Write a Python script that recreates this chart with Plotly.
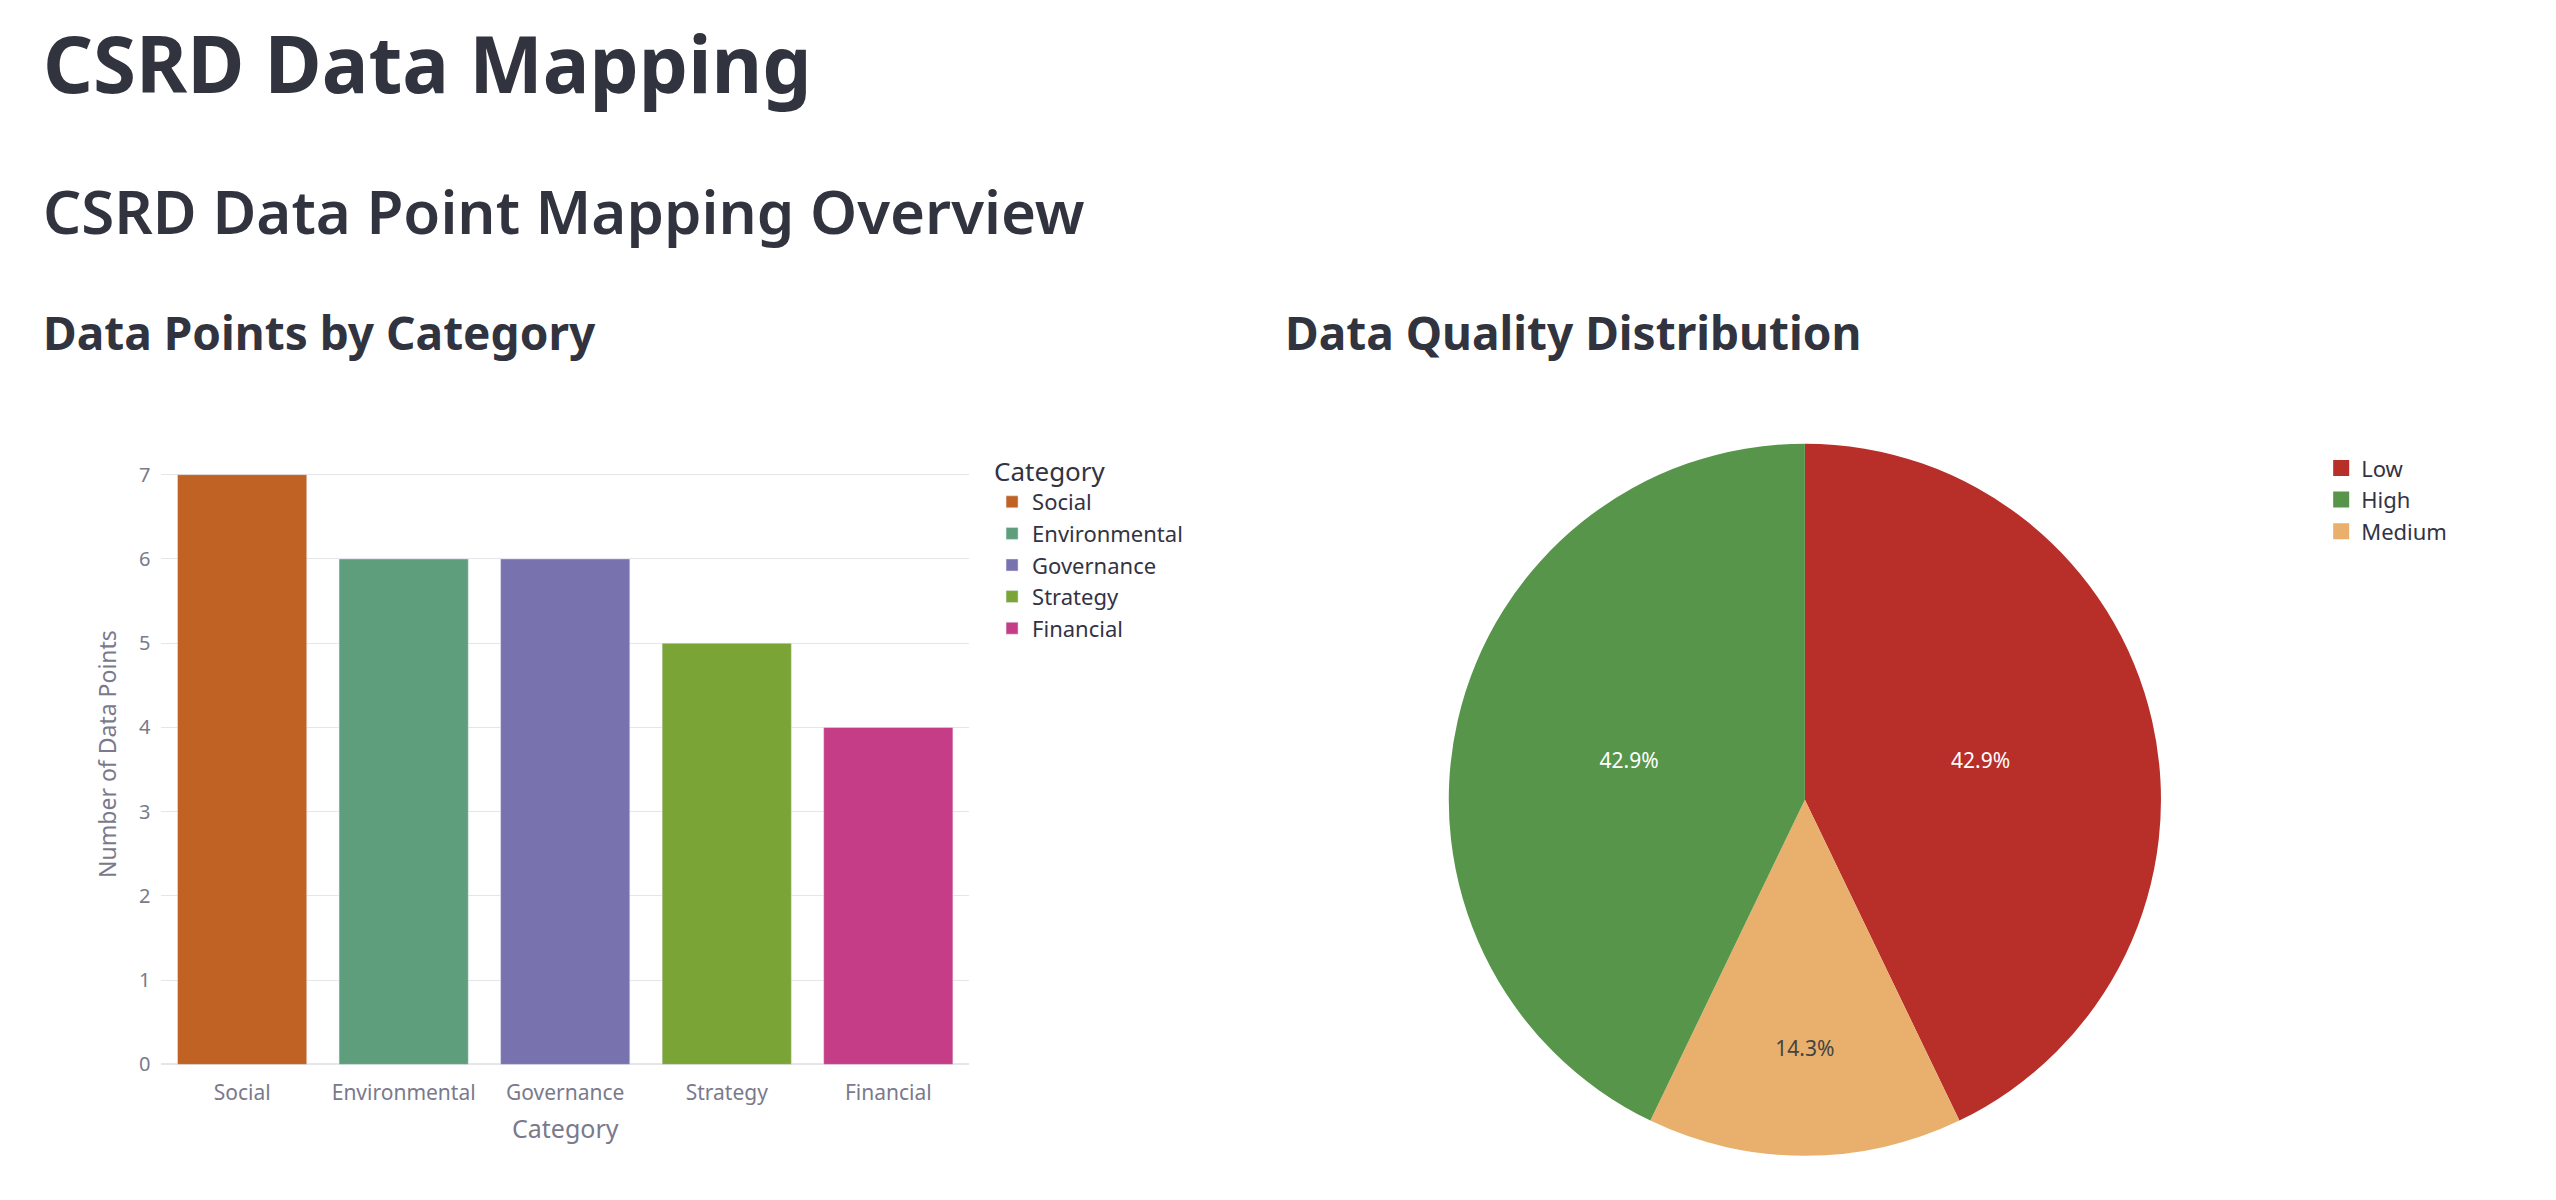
import plotly.graph_objects as go

categories = ["Social", "Environmental", "Governance", "Strategy", "Financial"]
counts = [7, 6, 6, 5, 4]
bar_colors = ["#BF6224", "#5E9E7C", "#7872AF", "#7BA437", "#C63D87"]

quality = ["Low", "Medium", "High"]
quality_counts = [3, 1, 3]
pie_colors = ["#B82E29", "#E8B06C", "#56954A"]
legend_quality = ["Low", "High", "Medium"]
legend_quality_colors = ["#B82E29", "#56954A", "#E8B06C"]

FONT = "Noto Sans"
fig = go.Figure()
for c, v, col in zip(categories, counts, bar_colors):
    fig.add_trace(go.Bar(x=[c], y=[v], name=c, marker_color=col, legend="legend",
                         xaxis="x", yaxis="y"))
fig.add_trace(go.Pie(labels=quality, values=quality_counts, marker=dict(colors=pie_colors),
                     sort=False, direction="clockwise", rotation=0, showlegend=False,
                     textinfo="percent", textfont=dict(size=21),
                     domain=dict(x=[0.562, 0.844], y=[0.033, 0.633])))
for q, col in zip(legend_quality, legend_quality_colors):
    fig.add_trace(go.Scatter(x=[None], y=[None], mode="markers", name=q,
                             marker=dict(symbol="square", size=22, color=col),
                             xaxis="x2", yaxis="y2", legend="legend2"))

fig.update_layout(
    width=2556, height=1200, margin=dict(l=0, r=0, t=0, b=0),
    paper_bgcolor="white", plot_bgcolor="white",
    font=dict(family=FONT, size=21, color="#7a7a8c"),
    barmode="overlay", bargap=0.2,
    xaxis=dict(domain=[0.060, 0.376], anchor="y", categoryorder="array", categoryarray=categories,
               title=dict(text="Category", font=dict(size=25)), showgrid=False,
               ticks="", tickfont=dict(size=21), ticklabelstandoff=14),
    yaxis=dict(domain=[0.11, 0.633], anchor="x", gridcolor="#e6e6ea", zeroline=True,
               zerolinecolor="#e6e6ea", title=dict(text="Number of Data Points", font=dict(size=23)),
               tickfont=dict(size=20), dtick=1, ticklabelstandoff=10),
    xaxis2=dict(visible=False, domain=[0.9, 0.91], anchor="y2"),
    yaxis2=dict(visible=False, domain=[0.9, 0.91], anchor="x2"),
    legend=dict(x=0.385, y=0.63, xanchor="left", yanchor="top", title=dict(text="Category"),
                font=dict(size=22, color="#333344"), tracegroupgap=0),
    legend2=dict(x=0.905, y=0.63, xanchor="left", yanchor="top",
                 font=dict(size=22, color="#333344")),
    annotations=[
        dict(text="<b>CSRD Data Mapping</b>", x=0.013, y=1.0, xref="paper", yref="paper",
             xanchor="left", yanchor="top", showarrow=False, font=dict(size=78, color="#31333F", family=FONT)),
        dict(text="CSRD Data Point Mapping Overview", x=0.013, y=0.865, xref="paper", yref="paper",
             xanchor="left", yanchor="top", showarrow=False,
             font=dict(size=60, color="#31333F", family=FONT, weight=600)),
        dict(text="<b>Data Points by Category</b>", x=0.013, y=0.755, xref="paper", yref="paper",
             xanchor="left", yanchor="top", showarrow=False, font=dict(size=46, color="#31333F", family=FONT)),
        dict(text="<b>Data Quality Distribution</b>", x=0.499, y=0.755, xref="paper", yref="paper",
             xanchor="left", yanchor="top", showarrow=False, font=dict(size=46, color="#31333F", family=FONT)),
    ],
)
fig.write_html("out.html")
